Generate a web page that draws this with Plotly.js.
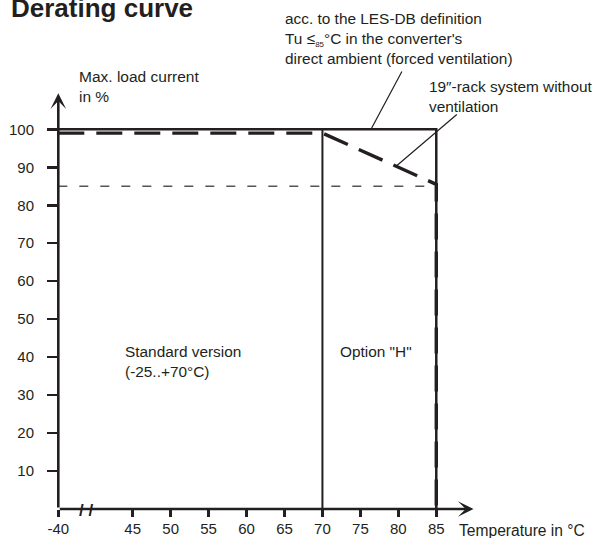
<!DOCTYPE html>
<html>
<head>
<meta charset="utf-8">
<script src="https://cdn.plot.ly/plotly-3.0.1.min.js"></script>
<style>html,body{margin:0;padding:0;background:#fff;}#chart{width:598px;height:538px;}</style>
</head>
<body>
<div id="chart"></div>
<script>
// ---- data ----
const tempTicks = [-40, 45, 50, 55, 60, 65, 70, 75, 80, 85];
const loadTicks = [10, 20, 30, 40, 50, 60, 70, 80, 90, 100];

// forced ventilation (acc. to LES-DB definition)
const forcedTemp = [-40, 85, 85];
const forcedLoad = [100, 100, 0];
// 19"-rack system without ventilation
const rackTemp = [-40, 70, 85, 85];
const rackLoad = [99, 99, 85.5, 0];
// 85 % reference line
const refTemp = [-40, 85];
const refLoad = [85, 85];
// border between standard version and option "H"
const optionTemp = [70, 70];
const optionLoad = [0, 100];

// ---- broken temperature axis: values below 45 are compressed ----
const BREAK = 45, SQUEEZE = 0.1153;
function pos(t) { return t >= BREAK ? t : BREAK - (BREAK - t) * SQUEEZE; }

const INK = '#231f20';
const FONT = 'Liberation Sans, Arial, Helvetica, sans-serif';
const P = {l: 58, t: 85, w: 422, h: 424};
const xr = [35.16, 90.76], yr = [0, 111.67];
function dataX(px) { return xr[0] + (px - P.l) / P.w * (xr[1] - xr[0]); }
function dataY(py) { return yr[0] + (P.t + P.h - py) / P.h * (yr[1] - yr[0]); }
function paperX(px) { return (px - P.l) / P.w; }
function paperY(py) { return (P.t + P.h - py) / P.h; }
function lineTrace(xs, ys, width, dash, color) {
  return {x: xs.map(pos), y: ys, mode: 'lines', type: 'scatter', hoverinfo: 'skip',
          line: {color: color || INK, width: width, dash: dash || 'solid'}, cliponaxis: false};
}

const traces = [
  lineTrace(refTemp, refLoad, 1.3, '9px,12px', '#555'),
  lineTrace(optionTemp, optionLoad, 2),
  lineTrace(forcedTemp, forcedLoad, 2.5),
  lineTrace(rackTemp, rackLoad, 3.4, '26px,12px')
];

function label(text, left, baseline, size) {
  return {
    text: text, xref: 'paper', yref: 'paper', x: paperX(left), y: paperY(baseline - 0.905 * size - 1),
    xanchor: 'left', yanchor: 'top', align: 'left', showarrow: false,
    font: {family: FONT, size: size, color: INK}
  };
}
function leader(hx, hy, tailPx, tailPy) {
  return {x: hx, y: hy, ax: dataX(tailPx), ay: dataY(tailPy), axref: 'x', ayref: 'y',
          xref: 'x', yref: 'y', text: '', showarrow: true, arrowhead: 0, arrowwidth: 1.2,
          arrowcolor: INK, standoff: 0};
}
function rackAt(t) {
  const t0 = rackTemp[1], t1 = rackTemp[2], l0 = rackLoad[1], l1 = rackLoad[2];
  return l0 + (t - t0) / (t1 - t0) * (l1 - l0);
}

const x0 = pos(tempTicks[0]);
const annotations = [
  // axes with arrow heads
  {x: dataX(473.5), y: 0, ax: x0, ay: 0, axref: 'x', ayref: 'y', xref: 'x', yref: 'y', text: '',
   showarrow: true, arrowhead: 3, arrowsize: 1, arrowwidth: 2.6, arrowcolor: INK, standoff: 0},
  {x: x0, y: dataY(93.3), ax: x0, ay: 0, axref: 'x', ayref: 'y', xref: 'x', yref: 'y', text: '',
   showarrow: true, arrowhead: 3, arrowsize: 1, arrowwidth: 2.6, arrowcolor: INK, standoff: 0},
  // axis break
  {x: paperX(86), y: paperY(510.5), xref: 'paper', yref: 'paper', text: '<b>/ /</b>', showarrow: false,
   xanchor: 'center', yanchor: 'middle', font: {family: FONT, size: 17, color: INK}},
  // leader lines
  leader(76.4, 100, 402.7, 70),
  leader(79.7, rackAt(79.7), 458.3, 113.3),
  // texts
  label('<b>Derating curve</b>', 9.3, 15.5, 26),
  label('Max. load current<br>in %', 77.3, 81, 15.5),
  label('acc. to the LES-DB definition<br>Tu ≤<sub><span style="font-size:8px">85</span></sub>°C in the converter\'s<br>direct ambient (forced ventilation)', 282.7, 22.7, 15.4),
  label('19″-rack system without<br>ventilation', 427.3, 91, 15.4),
  label('Standard version<br>(-25..+70°C)', 122.7, 356, 15.4),
  label('Option "H"', 338, 356, 15.4),
  label('Temperature in °C', 457.3, 534.7, 15.6)
];

const layout = {
  width: 598, height: 538,
  margin: {l: P.l, r: 598 - P.l - P.w, t: P.t, b: 538 - P.t - P.h, pad: 0},
  paper_bgcolor: '#fff', plot_bgcolor: '#fff',
  showlegend: false,
  font: {family: FONT, size: 15, color: INK},
  xaxis: {
    range: xr, showgrid: false, zeroline: false, showline: false,
    tickmode: 'array', tickvals: tempTicks.map(pos), ticktext: tempTicks.map(String),
    ticks: 'outside', ticklen: 7, tickwidth: 2.5, tickcolor: INK,
    tickfont: {family: FONT, size: 15, color: INK}, ticklabelstandoff: -1, fixedrange: true
  },
  yaxis: {
    range: yr, showgrid: false, zeroline: false, showline: false,
    tickmode: 'array', tickvals: loadTicks, ticktext: loadTicks.map(String),
    ticks: 'outside', ticklen: 10, tickwidth: 2.5, tickcolor: INK,
    tickfont: {family: FONT, size: 15, color: INK}, ticklabelstandoff: 10, fixedrange: true
  },
  annotations: annotations
};

Plotly.newPlot('chart', traces, layout, {staticPlot: true, displayModeBar: false});
</script>
</body>
</html>
